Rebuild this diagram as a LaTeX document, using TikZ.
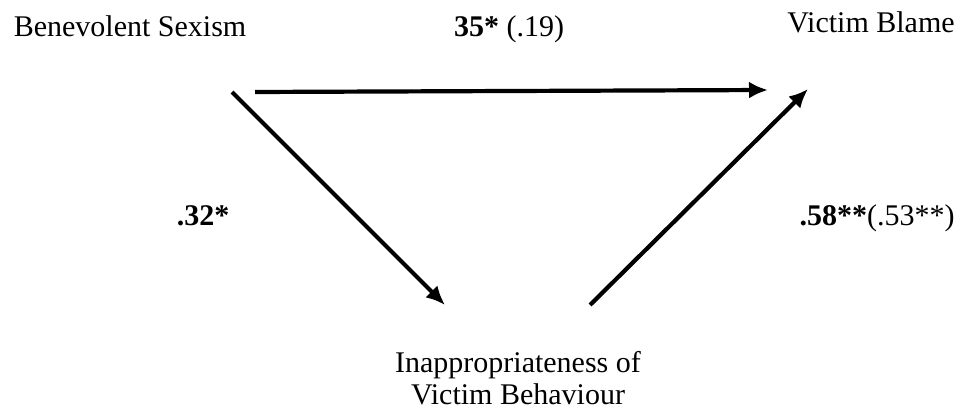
\documentclass[tikz,border=0pt]{standalone}
\usepackage{fontspec}
\setmainfont{Liberation Serif}
\usepackage{xcolor}
\usetikzlibrary{arrows.meta, positioning}

\begin{document}
\begin{tikzpicture}[
  x=0.5pt, y=-0.5pt,
  every node/.style={font=\fontsize{15}{16}\selectfont, inner sep=0pt},
  var/.style={anchor=base, align=center},
  coef/.style={anchor=base},
  arrow/.style={-{Latex[length=9.5pt, width=8.5pt]}, line width=2.1pt},
]
\useasboundingbox (0,0) rectangle (967,411);

\node[var] (bs) at (130,37)  {Benevolent Sexism};
\node[var] (vb) at (871,33)  {Victim Blame};
\node[var] (ivb) at (518,404) {Inappropriateness of\\Victim Behaviour};

% arrow ends
\coordinate (bs-r)  at (255,92);
\coordinate (bs-d)  at (232,92);
\coordinate (vb-l)  at (768,90);
\coordinate (vb-d)  at (808,89);
\coordinate (ivb-l) at (445,305);
\coordinate (ivb-r) at (590,305);

\draw[arrow] (bs-r) -- (vb-l);
\draw[arrow] (bs-d) -- (ivb-l);
\draw[arrow] (ivb-r) -- (vb-d);

\node[coef] (c) at (509,37) {\textbf{35*} (.19)};
\node[coef] (a) at (203,225) {\textbf{.32*}};
\node[coef] (b) at (877,225) {\textbf{.58**}(.53**)};
\end{tikzpicture}
\end{document}
